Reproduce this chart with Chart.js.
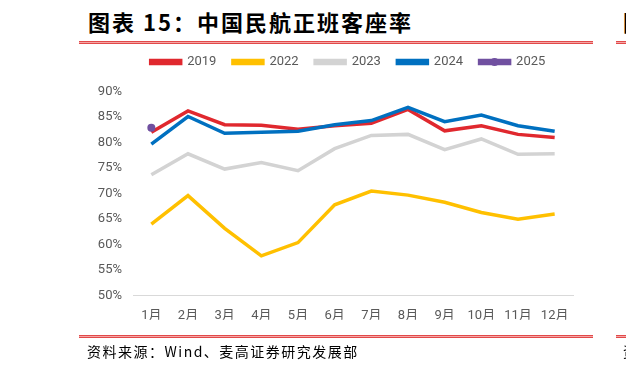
<!DOCTYPE html>
<html>
<head>
<meta charset="utf-8">
<script src="https://cdn.jsdelivr.net/npm/chart.js@4"></script>
<style>
  html, body { margin: 0; padding: 0; background: #fff; }
  #wrap { position: relative; width: 626px; height: 367px; overflow: hidden; }
  #chart { position: absolute; left: 0; top: 0; }
  .title { position: absolute; left: 88px; top: 5px; font-family: "Noto Sans CJK SC", sans-serif; font-weight: 700; font-size: 22px; color: #000; letter-spacing: 2px; white-space: nowrap; }
  .rule { position: absolute; height: 1px; background: #F4A6A6; border-top: 1px solid #E24A4A; border-bottom: 1px solid #E24A4A; }
  .source { position: absolute; left: 87px; top: 341px; font-family: "Noto Sans CJK SC", sans-serif; font-size: 14px; color: #000; letter-spacing: 1.5px; white-space: nowrap; }
  .edge { position: absolute; left: 623px; font-family: "Noto Sans CJK SC", sans-serif; color: #000; white-space: nowrap; }
</style>
</head>
<body>
<div id="wrap">
  <div class="title">图表 15：中国民航正班客座率</div>
  <div class="rule" style="left:79px; top:41px; width:514px;"></div>
  <div class="rule" style="left:616px; top:41px; width:10px;"></div>
  <div class="edge" style="top:5px; font-size:22px; font-weight:700;">图</div>
  <canvas id="chart" width="626" height="367"></canvas>
  <div class="rule" style="left:79px; top:335px; width:514px;"></div>
  <div class="rule" style="left:616px; top:335px; width:10px;"></div>
  <div class="source">资料来源：Wind、麦高证券研究发展部</div>
  <div class="edge" style="top:341px; font-size:14px;">资</div>
</div>
<script>
  // Data
  const months = ['1月', '2月', '3月', '4月', '5月', '6月', '7月', '8月', '9月', '10月', '11月', '12月'];
  const load2019 = [82.0, 86.2, 83.5, 83.4, 82.6, 83.3, 83.8, 86.5, 82.3, 83.3, 81.6, 81.0];
  const load2022 = [64.0, 69.6, 63.2, 57.8, 60.4, 67.8, 70.5, 69.7, 68.3, 66.3, 65.0, 66.0];
  const load2023 = [73.7, 77.8, 74.8, 76.1, 74.5, 78.8, 81.4, 81.6, 78.6, 80.7, 77.7, 77.8];
  const load2024 = [79.7, 85.1, 81.8, 82.0, 82.2, 83.5, 84.3, 86.9, 84.1, 85.4, 83.3, 82.2];
  const load2025 = [82.9];

  const tickColor = '#595959';
  const tickFont = { family: "Roboto, 'Noto Sans CJK SC', sans-serif", size: 13 };
  const legendShift = -5;

  // extra room under the legend, and nudge it sideways
  const legendTweak = {
    id: 'legendTweak',
    beforeInit(chart) {
      const legend = chart.legend;
      const fit = legend.fit;
      legend.fit = function () {
        fit.call(legend);
        this.height += 13;
      };
      const draw = legend.draw;
      legend.draw = function () {
        chart.ctx.save();
        chart.ctx.translate(legendShift, 0);
        draw.call(legend);
        chart.ctx.restore();
      };
    }
  };

  // dot on the 2025 legend line
  const legendDot = {
    id: 'legendDot',
    afterDraw(chart) {
      const boxes = chart.legend.legendHitBoxes;
      if (!boxes || !boxes[4]) return;
      const b = boxes[4];
      const ctx = chart.ctx;
      ctx.save();
      ctx.fillStyle = '#7050A0';
      ctx.beginPath();
      ctx.arc(b.left + 15 + legendShift, b.top + b.height / 2, 4, 0, Math.PI * 2);
      ctx.fill();
      ctx.restore();
    }
  };

  const line = (label, data, color, order) => ({
    label,
    data,
    borderColor: color,
    backgroundColor: color,
    borderWidth: 3.5,
    pointRadius: 0,
    tension: 0,
    fill: false,
    order
  });

  new Chart(document.getElementById('chart'), {
    type: 'line',
    data: {
      labels: months,
      datasets: [
        line('2019', load2019, '#E0282E', 4),
        line('2022', load2022, '#FFC000', 3),
        line('2023', load2023, '#D3D3D3', 2),
        line('2024', load2024, '#0070C0', 1),
        {
          label: '2025',
          data: load2025,
          borderColor: '#7050A0',
          backgroundColor: '#7050A0',
          borderWidth: 3.5,
          pointRadius: 4,
          pointBackgroundColor: '#7050A0',
          pointBorderWidth: 0,
          order: 0
        }
      ]
    },
    options: {
      responsive: false,
      animation: false,
      layout: {
        padding: { left: 93, right: 53, top: 39, bottom: 47.3 }
      },
      plugins: {
        legend: {
          position: 'top',
          fullSize: false,
          labels: {
            boxWidth: 30,
            boxHeight: 3,
            padding: 16.5,
            color: tickColor,
            font: tickFont,
            sort: (a, b) => a.datasetIndex - b.datasetIndex
          }
        },
        tooltip: { enabled: false }
      },
      scales: {
        x: {
          offset: true,
          afterFit: (scale) => { scale.height = 24; },
          grid: { display: false, drawTicks: false },
          border: { display: true, color: '#D9D9D9', width: 1 },
          ticks: {
            color: tickColor,
            font: tickFont,
            padding: 12,
            maxRotation: 0
          }
        },
        y: {
          min: 50,
          max: 90,
          afterFit: (scale) => { scale.width = 40; },
          grid: { display: false, drawTicks: false },
          border: { display: false },
          ticks: {
            stepSize: 5,
            color: tickColor,
            font: tickFont,
            padding: 11,
            callback: (v) => v + '%'
          }
        }
      }
    },
    plugins: [legendTweak, legendDot]
  });
</script>
</body>
</html>
